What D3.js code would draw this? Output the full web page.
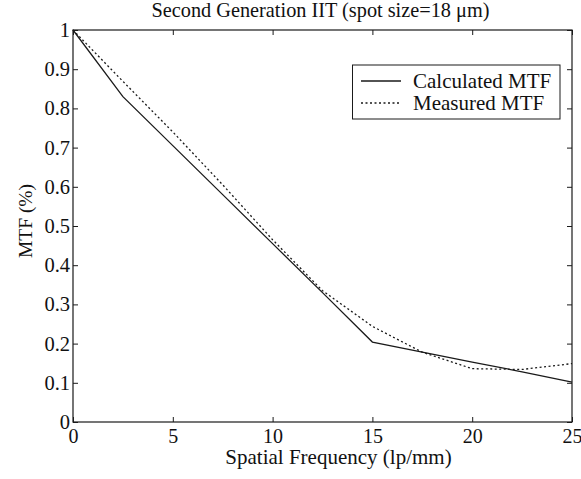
<!DOCTYPE html>
<html><head><meta charset="utf-8">
<script src="https://cdn.jsdelivr.net/npm/d3@7"></script>
<style>body{margin:0;background:#fff}svg{display:block}text{font-family:"Liberation Serif","Times New Roman",serif;fill:#111}</style>
</head><body><svg id="c" width="581" height="479"></svg>
<script>
const freq = [0, 2.5, 5, 7.5, 10, 12.5, 15, 17.5, 20, 22.5, 25];
const calculated = [1, 0.83, 0.705, 0.58, 0.455, 0.33, 0.204, 0.178, 0.153, 0.128, 0.102];
const measured = [1, 0.869, 0.74, 0.605, 0.465, 0.335, 0.244, 0.178, 0.136, 0.134, 0.149];
const xTicks = [0, 5, 10, 15, 20, 25];
const yTicks = [0, 0.1, 0.2, 0.3, 0.4, 0.5, 0.6, 0.7, 0.8, 0.9, 1];
const seriesNames = ["Calculated MTF", "Measured MTF"];
const title = "Second Generation IIT (spot size=18 \u03bcm)";
const xLabel = "Spatial Frequency (lp/mm)";
const yLabel = "MTF (%)";

const svg = d3.select("#c");
const L = 73, R = 572, T = 30, B = 422;
const x = d3.scaleLinear().domain([0, 25]).range([L, R]);
const y = d3.scaleLinear().domain([0, 1]).range([B, T]);
const ink = "#1a1a1a";
const FF = "Liberation Serif";

svg.append("rect").attr("x", L).attr("y", T).attr("width", R - L).attr("height", B - T)
  .attr("fill", "none").attr("stroke", ink).attr("stroke-width", 1.2);

const tl = 5;
const bx = svg.append("g").attr("transform", `translate(0,${B})`)
  .call(d3.axisBottom(x).tickValues(xTicks).tickFormat(d3.format("d")).tickSizeInner(-tl).tickSizeOuter(0).tickPadding(7));
bx.select(".domain").remove();
bx.selectAll("line").attr("stroke", ink);
bx.selectAll("text").attr("font-size", 20).attr("fill", ink).attr("font-family", FF);
const tx = svg.append("g").attr("transform", `translate(0,${T})`)
  .call(d3.axisTop(x).tickValues(xTicks).tickSizeInner(-tl).tickSizeOuter(0).tickFormat(""));
tx.select(".domain").remove(); tx.selectAll("line").attr("stroke", ink);
const ly = svg.append("g").attr("transform", `translate(${L},0)`)
  .call(d3.axisLeft(y).tickValues(yTicks).tickFormat(d => d === 0 || d === 1 ? d3.format("d")(d) : d3.format(".1f")(d)).tickSizeInner(-tl).tickSizeOuter(0).tickPadding(3));
ly.select(".domain").remove();
ly.selectAll("line").attr("stroke", ink);
ly.selectAll("text").attr("font-size", 20.5).attr("fill", ink).attr("font-family", FF);
const ry = svg.append("g").attr("transform", `translate(${R},0)`)
  .call(d3.axisRight(y).tickValues(yTicks).tickSizeInner(-tl).tickSizeOuter(0).tickFormat(""));
ry.select(".domain").remove(); ry.selectAll("line").attr("stroke", ink);

const line = d3.line().x((d, i) => x(freq[i])).y(d => y(d));
svg.append("path").datum(calculated).attr("d", line).attr("fill", "none").attr("stroke", ink).attr("stroke-width", 1.3);
svg.append("path").datum(measured).attr("d", line).attr("fill", "none").attr("stroke", ink).attr("stroke-width", 1.3).attr("stroke-dasharray", "2,2.5");

svg.append("text").attr("x", (L + R) / 2 - 2).attr("y", 17).attr("text-anchor", "middle").attr("font-size", 20.3).text(title);
svg.append("text").attr("x", (L + R) / 2 + 16).attr("y", 464).attr("text-anchor", "middle").attr("font-size", 21).text(xLabel);
svg.append("text").attr("transform", `translate(32,221) rotate(-90)`).attr("text-anchor", "middle").attr("font-size", 19.5).text(yLabel);

const lg = svg.append("g");
lg.append("rect").attr("x", 352.5).attr("y", 65).attr("width", 207.5).attr("height", 54).attr("fill", "#fff").attr("stroke", ink).attr("stroke-width", 1);
const dashes = [null, "2,2.5"];
seriesNames.forEach((n, i) => {
  const yy = 81 + i * 22;
  lg.append("line").attr("x1", 361).attr("x2", 401).attr("y1", yy).attr("y2", yy).attr("stroke", ink).attr("stroke-width", 1.3).attr("stroke-dasharray", dashes[i]);
  lg.append("text").attr("x", 413).attr("y", yy + 6.5).attr("font-size", 21).text(n);
});
</script></body></html>
